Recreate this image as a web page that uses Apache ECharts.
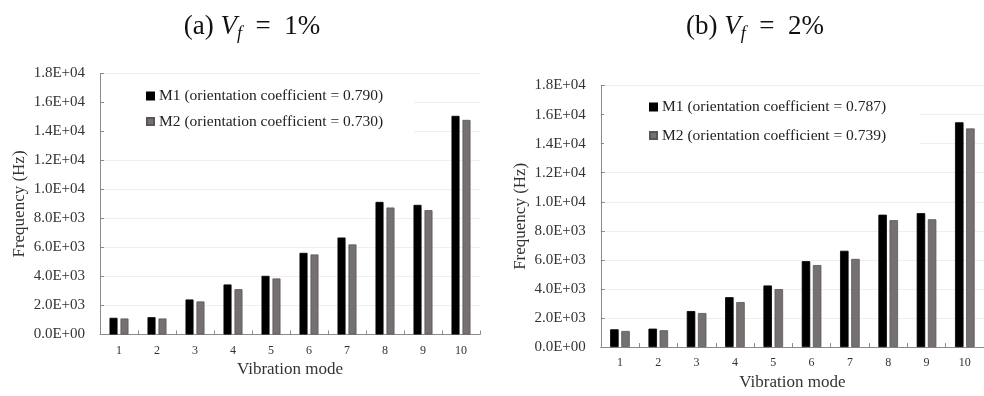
<!DOCTYPE html>
<html><head><meta charset="utf-8">
<script src="https://cdn.jsdelivr.net/npm/echarts@6/dist/echarts.min.js"></script>
<style>html,body{margin:0;padding:0;background:#fff}#c{width:984px;height:396px}</style>
</head><body><div id="c"></div>
<script>
var categories = ['1','2','3','4','5','6','7','8','9','10'];
var yTickLabels = ['0.0E+00','2.0E+03','4.0E+03','6.0E+03','8.0E+03','1.0E+04','1.2E+04','1.4E+04','1.6E+04','1.8E+04'];
var namesA = ['M1 (orientation coefficient = 0.790)','M2 (orientation coefficient = 0.730)'];
var namesB = ['M1 (orientation coefficient = 0.787)','M2 (orientation coefficient = 0.739)'];
var a_M1 = [1150, 1195, 2415, 3450, 4045, 5630, 6690, 9145, 8940, 15080];
var a_M2 = [1105, 1105, 2280, 3125, 3865, 5520, 6210, 8760, 8575, 14800];
var b_M1 = [1225, 1270, 2480, 3435, 4240, 5915, 6630, 9110, 9215, 15470];
var b_M2 = [1110, 1160, 2345, 3100, 3990, 5645, 6070, 8730, 8795, 15045];

var FONT = '"Liberation Serif","Times New Roman",serif';
var chart = echarts.init(document.getElementById('c'), null, {renderer:'canvas'});

function yAxis(gi){
  return {gridIndex:gi, type:'value', min:0, max:18000, interval:2000,
    name:'Frequency (Hz)', nameLocation:'middle', nameGap:72,
    nameTextStyle:{fontFamily:FONT, fontSize:17, color:'#333'},
    axisLine:{show:true, lineStyle:{color:'#8a8a8a', width:1}},
    axisTick:{show:true, inside:true, length:4, lineStyle:{color:'#8a8a8a'}},
    splitLine:{show:true, lineStyle:{color:'#efefef', width:1}},
    axisLabel:{fontFamily:FONT, fontSize:15, color:'#333', margin:15,
      formatter:function(v){return yTickLabels[Math.round(v/2000)];}}
  };
}
function xAxis(gi){
  return {gridIndex:gi, type:'category', data:categories,
    name:'Vibration mode', nameLocation:'middle', nameGap:26,
    nameTextStyle:{fontFamily:FONT, fontSize:17, color:'#333'},
    axisLine:{show:true, lineStyle:{color:'#8a8a8a', width:1}},
    axisTick:{show:true, inside:true, length:4, alignWithLabel:false, lineStyle:{color:'#8a8a8a'}},
    axisLabel:{fontFamily:FONT, fontSize:12, color:'#333', margin:10},
    splitLine:{show:false}
  };
}
function bar(name, data, gi, color, border, w, gap){
  return {name:name, type:'bar', xAxisIndex:gi, yAxisIndex:gi, data:data,
    barWidth:w, barGap:gap, itemStyle:{color:color, borderColor:border, borderWidth:0.8},
    emphasis:{disabled:true}, animation:false};
}
var titleRich = {
  n:{fontFamily:FONT, fontSize:27, fontWeight:'normal', color:'#111', lineHeight:32},
  i:{fontFamily:FONT, fontSize:27, fontWeight:'normal', fontStyle:'italic', color:'#111', lineHeight:32},
  s:{fontFamily:FONT, fontSize:18, fontWeight:'normal', fontStyle:'italic', color:'#111', lineHeight:15, verticalAlign:'bottom'}
};
var legendText = {fontFamily:FONT, fontSize:15.5, color:'#222'};

chart.setOption({
  animation:false,
  title:[
    {text:'{n|(a) }{i|V}{s|f}{n|  =  1%}', left:247, top:6, textAlign:'center', textStyle:{fontWeight:'normal', rich:titleRich}},
    {text:'{n|(b) }{i|V}{s|f}{n|  =  2%}', left:750, top:6, textAlign:'center', textStyle:{fontWeight:'normal', rich:titleRich}}
  ],
  legend:[
    {data:namesA, orient:'vertical', left:104, top:80, itemGap:9.5, itemWidth:7, itemHeight:7, icon:'rect',
     padding:[8,31,3,42], backgroundColor:'#fff', textStyle:legendText, selectedMode:false},
    {data:namesB, orient:'vertical', left:604, top:92, itemGap:12.6, itemWidth:7, itemHeight:7, icon:'rect',
     padding:[7,34,3,45], backgroundColor:'#fff', textStyle:legendText, selectedMode:false}
  ],
  grid:[
    {left:100, top:73.5, width:380, height:261, containLabel:false},
    {left:600.8, top:85.5, width:390.8, height:268.8, containLabel:false}
  ],
  xAxis:[xAxis(0), xAxis(1)],
  yAxis:[yAxis(0), yAxis(1)],
  series:[
    bar(namesA[0], a_M1, 0, '#000000', '#000000', 8, '37%'),
    bar(namesA[1], a_M2, 0, '#767171', '#5a5656', 8, '37%'),
    bar(namesB[0], b_M1, 1, '#000000', '#000000', 8.5, '31%'),
    bar(namesB[1], b_M2, 1, '#767171', '#5a5656', 8.5, '31%')
  ]
});
</script></body></html>
